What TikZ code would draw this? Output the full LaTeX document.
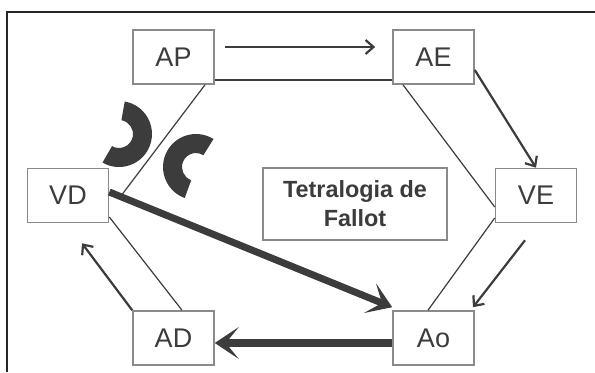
\documentclass[tikz,border=0pt]{standalone}
\usepackage{fontspec}
\setmainfont{Liberation Sans}
\usetikzlibrary{arrows.meta}

\definecolor{heart}{HTML}{3C3C3C}
\definecolor{boxline}{HTML}{8A8A8A}

\tikzset{
	chamber/.style={draw=boxline, line width=0.8pt, fill=white, inner sep=0pt,
		minimum width=40.5pt, minimum height=27pt, text=heart,
		font=\fontsize{13.5}{15}\selectfont},
	wall/.style={draw=heart, line width=0.6pt},
	flow/.style={draw=heart, line width=1.1pt, -{Straight Barb[length=4pt,width=7pt]}},
	shunt/.style={draw=heart, -{Stealth[length=12pt,width=16pt,inset=6.5pt]}},
}

\begin{document}
\begin{tikzpicture}[x=0.5pt, y=0.5pt]
				\useasboundingbox (0,0) rectangle (595,372);
				\draw[black!85, line width=1.3pt] (7,0) -- (7,360) -- (595,360);

				% Manual node positions
				\node[chamber] (AP) at (173.5,315) {AP};
				\node[chamber] (AE) at (433.5,315) {AE};
				\node[chamber] (VE) at (536,176.5) {VE};
				\node[chamber] (VD) at (68,176.5) {VD};
				\node[chamber] (AD) at (173.5,34) {AD};
				\node[chamber] (Ao) at (433.5,34) {Ao};
				\node[chamber, minimum width=92pt, minimum height=36pt, align=center,
					font=\bfseries\fontsize{11.7}{14.5}\selectfont] (TF) at (355,168) {Tetralogia de\\Fallot};

				% Septum (crescents)
				\fill[heart] (119,238) ++(-120:33) arc[start angle=-120, end angle=80, radius=33]
					-- ++(80:-19) arc[start angle=80, end angle=-120, radius=14] -- cycle;
				\fill[heart] (196,205) ++(58:33) arc[start angle=58, end angle=250, radius=33]
					-- ++(250:-19) arc[start angle=250, end angle=58, radius=14] -- cycle;

				% Connections
				\draw[wall] ([yshift=-11.5pt]AP.east) -- ([yshift=-11.5pt]AE.west);
				\draw[wall] ([xshift=-15.25pt]AE.south) -- ([yshift=-5.75pt]VE.west);
				\draw[wall] ([yshift=-11.25pt]VE.west) -- ([xshift=-2.75pt]Ao.north);
				\draw[wall] ([xshift=15.75pt]AP.south) -- ([xshift=6pt]VD.east);
				\draw[wall] ([yshift=-10.75pt]VD.east) -- ([xshift=4.25pt]AD.north);

				\draw[flow, shorten <=5pt, shorten >=8.5pt] ([yshift=5pt]AP.east) -- ([yshift=5pt]AE.west);
				\draw[flow] ([yshift=-6.5pt]AE.east) -- (VE.north);
				\draw[flow] ([xshift=-5.5pt,yshift=-8.5pt]VE.south) -- ([xshift=19.75pt,yshift=1.5pt]Ao.north);
				\draw[flow] (AD.north west) -- ([xshift=7pt,yshift=-10pt]VD.south);

				\draw[shunt, line width=4pt] ([yshift=-2.5pt]Ao.west) -- ([yshift=-2.5pt]AD.east);
				\draw[shunt, line width=3.5pt] ([yshift=1.75pt]VD.east) -- ([yshift=1.5pt]Ao.north west);

			\end{tikzpicture}
\end{document}
